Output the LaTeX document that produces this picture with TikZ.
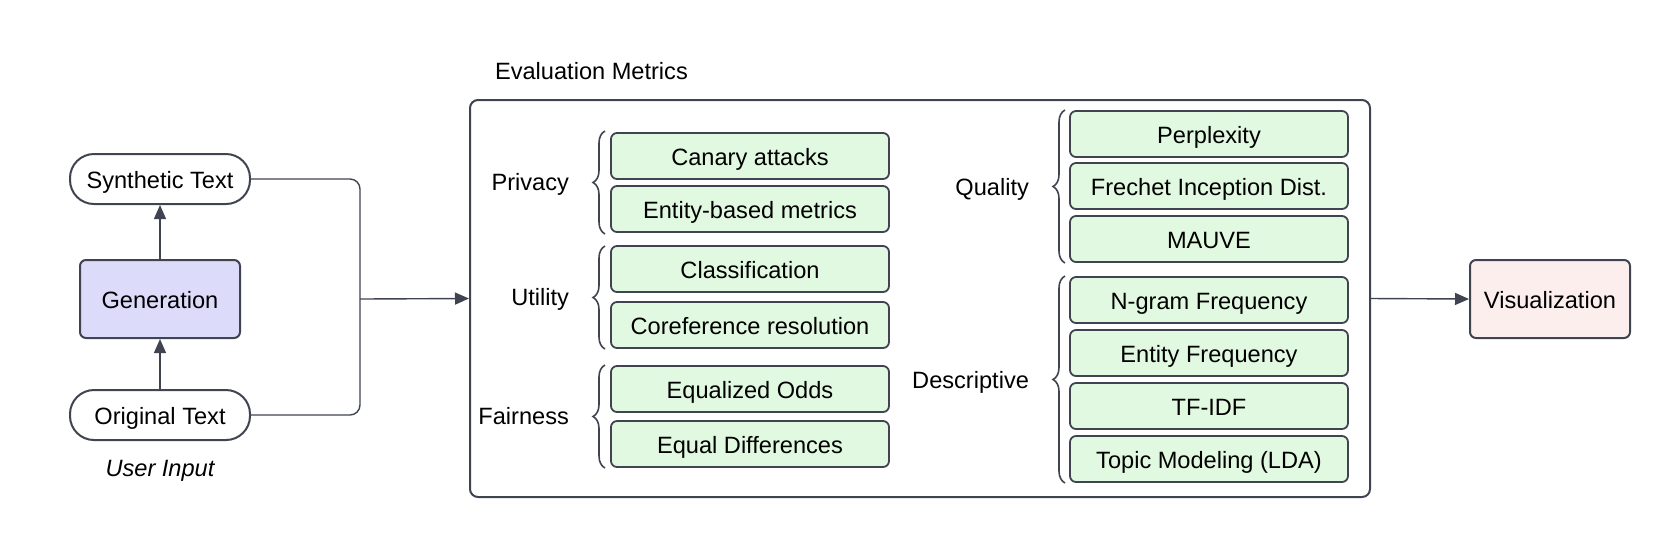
\documentclass[tikz,border=0pt]{standalone}
\usepackage{fontspec}
\setmainfont{Liberation Sans}
\usetikzlibrary{arrows.meta,decorations.pathreplacing}
\definecolor{edgegray}{HTML}{3F4450}
\definecolor{metricgreen}{HTML}{E1F8E1}
\definecolor{genblue}{HTML}{DCDCFA}
\definecolor{vispink}{HTML}{FDEEEE}
\tikzset{
  pill/.style={draw=edgegray, line width=1pt, fill=white, rounded corners=12pt,
    minimum width=90pt, minimum height=25pt, text height=10.5pt, text depth=1.3pt},
  stage/.style={draw=edgegray, line width=1pt, rounded corners=3pt,
    minimum width=80pt, minimum height=39pt, text height=10.5pt, text depth=1.3pt},
  metric/.style={draw=edgegray, line width=0.9pt, fill=metricgreen, rounded corners=3pt,
    minimum width=139pt, minimum height=23pt, text height=10.5pt, text depth=1.3pt},
  group/.style={anchor=east, text height=10pt, text depth=2pt},
  curly/.style={draw=edgegray, line width=0.8pt, decorate,
    decoration={brace, amplitude=6pt}},
  link/.style={draw=edgegray, line width=0.7pt},
  arrow/.style={link, -{Triangle[length=7pt, width=6pt]}},
}
\begin{document}
\begin{tikzpicture}[x=0.5pt, y=-0.5pt, font=\fontsize{11.8}{14}\selectfont]
    \useasboundingbox (0,0) rectangle (1670,538);

    % user input side
    \node[pill] (syn) at (160,179) {Synthetic Text};
    \node[stage, fill=genblue] (gen) at (160,299) {Generation};
    \node[pill] (orig) at (160,415) {Original Text};
    \node (user) at (160,471) {\itshape User Input};
    \draw[arrow] (orig.north) -- (gen.south);
    \draw[arrow] (gen.north) -- (syn.south);

    % evaluation metrics frame
    \node[anchor=west] (evaltitle) at (488,71) {Evaluation Metrics};
    \node[draw=edgegray, line width=1pt, rounded corners=4pt,
      minimum width=450pt, minimum height=198.5pt] (metrics) at (920,298.5) {};

    \coordinate (join) at (360,299);
    \draw[link, rounded corners=5pt] (syn.east) -| (join);
    \draw[link, rounded corners=5pt] (orig.east) -| (join);
    \draw[arrow] (join) -- (metrics.west);

    % left column
    \node[metric] (canary) at (750,156) {Canary attacks};
    \node[metric] (entity) at (750,209) {Entity-based metrics};
    \node[metric] (classif) at (750,269) {Classification};
    \node[metric] (coref) at (750,325) {Coreference resolution};
    \node[metric] (eqodds) at (750,389) {Equalized Odds};
    \node[metric] (eqdiff) at (750,444) {Equal Differences};

    \node[group] (privacy) at (576,182) {Privacy};
    \node[group] (utility) at (576,297) {Utility};
    \node[group] (fairness) at (576,416) {Fairness};
    \draw[curly] (605,234) -- (605,131);
    \draw[curly] (605,349) -- (605,246);
    \draw[curly] (605,468) -- (605,365);

    % right column
    \node[metric] (perplex) at (1209,134) {Perplexity};
    \node[metric] (frechet) at (1209,186) {Frechet Inception Dist.};
    \node[metric] (mauve) at (1209,239) {MAUVE};
    \node[metric] (ngram) at (1209,300) {N-gram Frequency};
    \node[metric] (entfreq) at (1209,353) {Entity Frequency};
    \node[metric] (tfidf) at (1209,406) {TF-IDF};
    \node[metric] (topic) at (1209,459) {Topic Modeling (LDA)};

    \node[group] (quality) at (1036,187) {Quality};
    \node[group] (descr) at (1036,380) {Descriptive};
    \draw[curly] (1065,263) -- (1065,110);
    \draw[curly] (1065,483) -- (1065,276);

    % output
    \node[stage, fill=vispink] (vis) at (1550,299) {Visualization};
    \draw[arrow] (metrics.east) -- (vis.west);
\end{tikzpicture}
\end{document}
